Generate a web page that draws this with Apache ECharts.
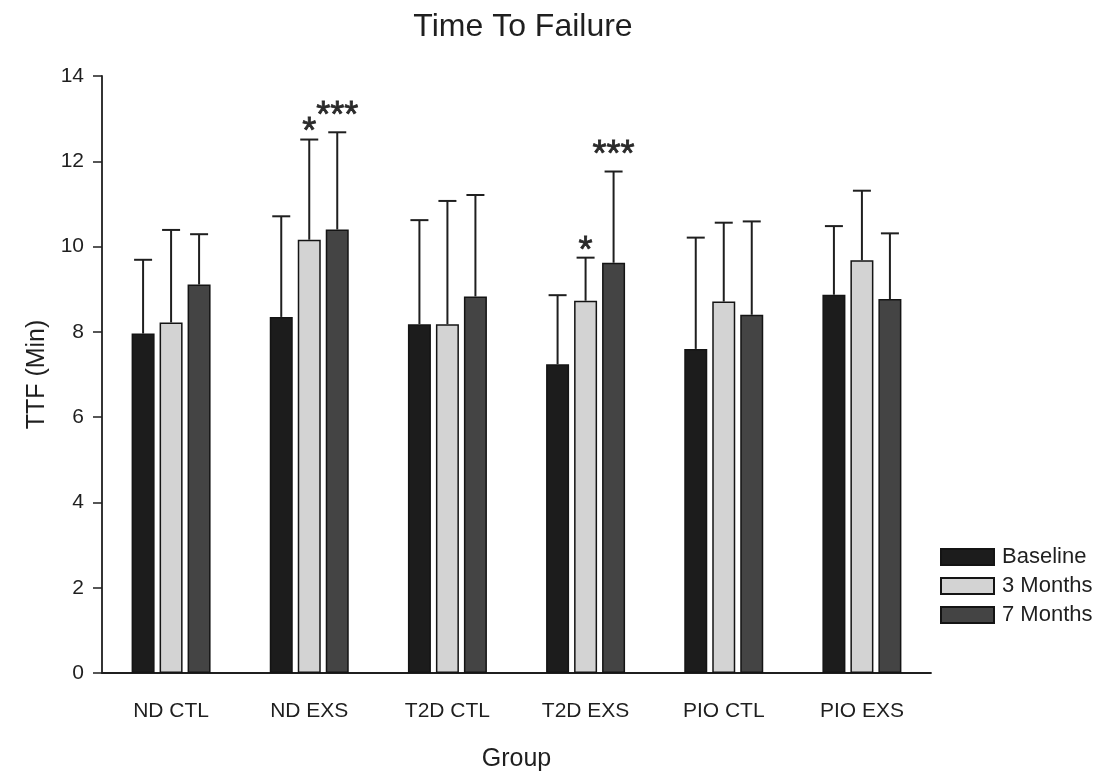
<!DOCTYPE html>
<html>
<head>
<meta charset="utf-8">
<title>Time To Failure</title>
<script src="https://cdn.jsdelivr.net/npm/echarts@6/dist/echarts.min.js"></script>
<style>
  html, body { margin: 0; padding: 0; background: #fff; }
  #chart { width: 1098px; height: 774px; }
</style>
</head>
<body>
<div id="chart"></div>
<script>
// Groups and time points
const groups = ['ND CTL', 'ND EXS', 'T2D CTL', 'T2D EXS', 'PIO CTL', 'PIO EXS'];
const seriesNames = ['Baseline', '3 Months', '7 Months'];

// Mean time to failure (min)
const baselineMean = [7.96, 8.35, 8.18, 7.24, 7.60, 8.87];
const month3Mean   = [8.22, 10.16, 8.18, 8.73, 8.71, 9.68];
const month7Mean   = [9.11, 10.40, 8.83, 9.62, 8.40, 8.77];

// Standard deviation (upper error bar)
const baselineSD = [1.73, 2.36, 2.44, 1.62, 2.61, 1.61];
const month3SD   = [2.17, 2.35, 2.89, 1.01, 1.85, 1.63];
const month7SD   = [1.18, 2.28, 2.38, 2.14, 2.19, 1.54];

// Significance markers vs baseline
const baselineSig = ['', '', '', '', '', ''];
const month3Sig   = ['', '*', '', '*', '', ''];
const month7Sig   = ['', '***', '', '***', '', ''];

// Y axis ticks
const yTicks = [0, 2, 4, 6, 8, 10, 12, 14];

const means = [baselineMean, month3Mean, month7Mean];
const sds = [baselineSD, month3SD, month7SD];
const sigs = [baselineSig, month3Sig, month7Sig];
const fills = ['#1c1c1c', '#d3d3d3', '#444444'];

const BAR_W = 23;
const BAR_GAP = 5;
const font = '"Liberation Sans", Arial, sans-serif';
const ink = '#1f1f1f';

const chart = echarts.init(document.getElementById('chart'));

const barSeries = seriesNames.map((name, i) => ({
  name: name,
  type: 'bar',
  data: means[i],
  barWidth: BAR_W,
  barGap: (BAR_GAP / BAR_W * 100).toFixed(1) + '%',
  itemStyle: { color: fills[i], borderColor: '#141414', borderWidth: 1.5 },
  z: 2
}));

// Upper error bars with caps, plus significance stars above them
const errorSeries = seriesNames.map((name, i) => ({
  type: 'custom',
  name: name + ' SD',
  data: groups.map((g, k) => [k, means[i][k], means[i][k] + sds[i][k]]),
  z: 3,
  silent: true,
  renderItem: function (params, api) {
    const offset = (i - 1) * (BAR_W + BAR_GAP);
    const base = api.coord([api.value(0), api.value(1)]);
    const top = api.coord([api.value(0), api.value(2)]);
    const x = base[0] + offset;
    const cap = 9;
    const children = [
      { type: 'line', shape: { x1: x, y1: base[1], x2: x, y2: top[1] },
        style: { stroke: ink, lineWidth: 2 } },
      { type: 'line', shape: { x1: x - cap, y1: top[1], x2: x + cap, y2: top[1] },
        style: { stroke: ink, lineWidth: 2 } }
    ];
    const mark = sigs[i][params.dataIndex];
    if (mark) {
      const lift = mark.length > 1 ? 28 : 19;
      children.push({
        type: 'text',
        style: {
          text: mark, x: x, y: top[1] - lift + 13,
          align: 'center', verticalAlign: 'middle',
          font: '36px ' + font, fill: '#2a2a2a',
          stroke: '#2a2a2a', lineWidth: 0.8
        }
      });
    }
    return { type: 'group', children: children };
  }
}));

chart.setOption({
  backgroundColor: '#ffffff',
  animation: false,
  textStyle: { fontFamily: font },
  title: {
    text: 'Time To Failure',
    left: 518,
    top: 6,
    textAlign: 'center',
    textStyle: { fontSize: 32, fontWeight: 'normal', color: ink, fontFamily: font }
  },
  legend: {
    data: seriesNames,
    orient: 'vertical',
    left: 935,
    top: 541,
    itemWidth: 53,
    itemHeight: 16,
    itemGap: 7,
    icon: 'rect',
    textStyle: { fontSize: 22, color: ink, fontFamily: font, padding: [0, 0, 0, 3] }
  },
  grid: { left: 102, right: 167, top: 76, bottom: 101, outerBoundsMode: 'none', containLabel: false },
  xAxis: {
    type: 'category',
    data: groups,
    name: 'Group',
    nameLocation: 'middle',
    nameGap: 74,
    nameTextStyle: { fontSize: 25, color: ink },
    axisLine: { lineStyle: { color: ink, width: 1.8 } },
    axisTick: { alignWithLabel: true, length: 9, lineStyle: { color: ink, width: 1.5 } },
    axisLabel: { fontSize: 21, color: ink, margin: 28 }
  },
  yAxis: {
    type: 'value',
    min: yTicks[0],
    max: yTicks[yTicks.length - 1],
    interval: yTicks[1] - yTicks[0],
    name: 'TTF (Min)',
    nameLocation: 'middle',
    nameGap: 42,
    nameTextStyle: { fontSize: 25, color: ink },
    splitLine: { show: false },
    axisLine: { show: true, lineStyle: { color: ink, width: 1.8 } },
    axisTick: { show: true, length: 9, lineStyle: { color: ink, width: 1.5 } },
    axisLabel: { fontSize: 21, color: ink, margin: 18 }
  },
  series: barSeries.concat(errorSeries)
});
</script>
</body>
</html>
